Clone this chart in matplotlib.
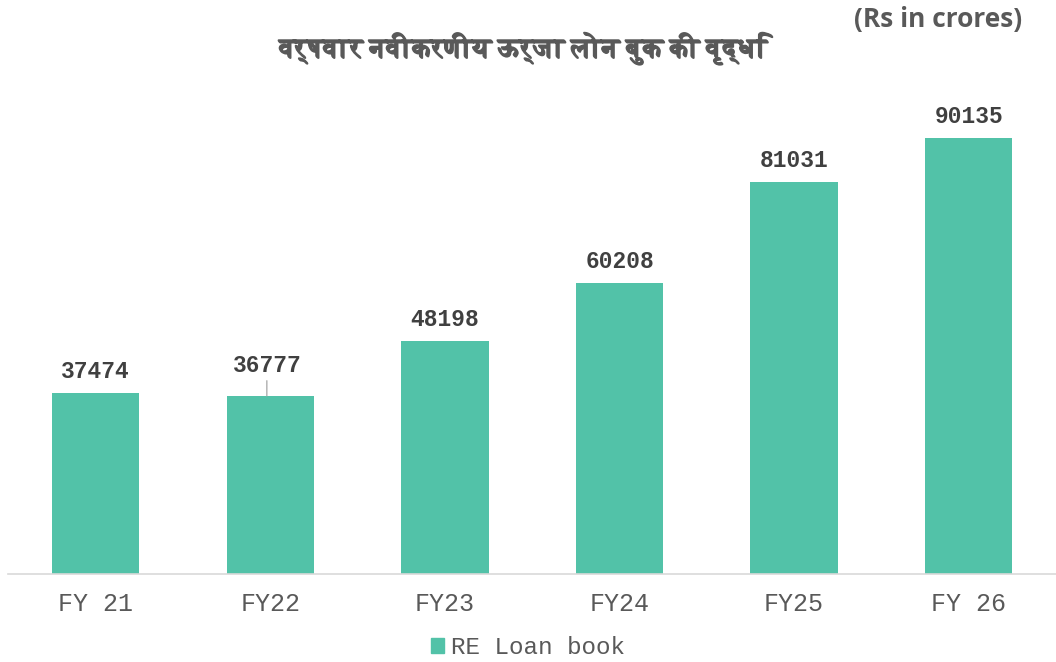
import matplotlib
matplotlib.use("Agg")
import matplotlib.pyplot as plt
import matplotlib.patheffects as pe
from matplotlib import font_manager
from matplotlib.ft2font import FT2Font
from matplotlib.patches import Patch

categories = ["FY 21", "FY22", "FY23", "FY24", "FY25", "FY 26"]
values = [37474, 36777, 48198, 60208, 81031, 90135]
series_name = "RE Loan book"
title = "वर्षवार नवीकरणीय ऊर्जा लोन बुक की वृद्धि"
unit_note = "(Rs in crores)"

BAR = "#52C2A8"
TXT = "#404040"


def find_font_for(ch):
    found = []
    for f in font_manager.fontManager.ttflist:
        try:
            cm = FT2Font(f.fname).get_charmap()
        except Exception:
            continue
        if ord(ch) in cm:
            found.append(f)
    for f in found:
        if f.weight in ("bold", 700, "heavy"):
            return f.name
    return found[0].name if found else None


dev = find_font_for("व")
title_family = [dev, "DejaVu Sans"] if dev else ["DejaVu Sans"]

fig = plt.figure(figsize=(10.56, 6.62), dpi=100)
ax = fig.add_axes([0.008, 0.133, 0.992, 0.731])

x = list(range(len(categories)))
bars = ax.bar(x, values, width=0.5, color=BAR, zorder=2)
ax.set_xlim(-0.5, len(categories) - 0.5)
ax.set_ylim(0, 100000)

for s in ["top", "right", "left"]:
    ax.spines[s].set_visible(False)
ax.spines["bottom"].set_color("#D9D9D9")
ax.spines["bottom"].set_linewidth(1.2)
ax.set_yticks([])
ax.set_xticks(x)
ax.set_xticklabels(categories, family="Liberation Mono", fontsize=18, color="#595959")
ax.tick_params(axis="x", length=0, pad=13)

for i, v in enumerate(values):
    if i == 1:
        ax.annotate(str(v), xy=(i - 0.02, v), xytext=(0.01, 14), textcoords="offset points",
                    ha="center", va="bottom", family="Liberation Mono", weight="bold",
                    fontsize=16.5, color=TXT,
                    arrowprops=dict(arrowstyle="-", color="#A6A6A6", lw=0.9,
                                    shrinkA=1, shrinkB=0))
    else:
        ax.annotate(str(v), xy=(i, v), xytext=(0, 7), textcoords="offset points",
                    ha="center", va="bottom", family="Liberation Mono", weight="bold",
                    fontsize=16.5, color=TXT)

fig.text(0.497, 0.927, title, ha="center", va="center", family=title_family,
         weight="bold", fontsize=19.5, color="#595959",
         path_effects=[pe.withStroke(linewidth=1.0, foreground="#595959")])
fig.text(0.968, 0.970, unit_note, ha="right", va="center", family="Open Sans",
         weight="bold", fontsize=19, color="#595959")

leg = fig.legend(handles=[Patch(color=BAR, label=series_name)], loc="center",
                 bbox_to_anchor=(0.5, 0.022), frameon=False, handlelength=0.55,
                 handleheight=0.55, handletextpad=0.3, borderpad=0.1,
                 prop={"family": "Liberation Mono", "size": 17.5})
for t in leg.get_texts():
    t.set_color("#595959")

fig.savefig("out.png", dpi=100)
